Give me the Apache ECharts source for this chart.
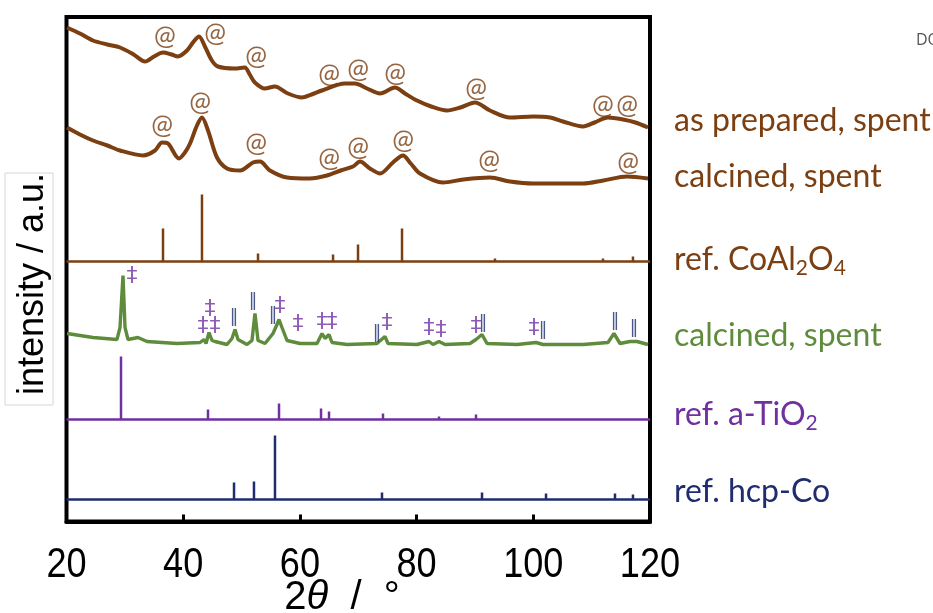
<!DOCTYPE html>
<html>
<head>
<meta charset="utf-8">
<script src="https://cdn.jsdelivr.net/npm/echarts@6/dist/echarts.min.js"></script>
<style>
html,body{margin:0;padding:0;background:#fff;}
#chart{width:933px;height:613px;}
</style>
</head>
<body>
<div id="chart"></div>
<script>
// ---- data (2θ in degrees, intensity in a.u. incl. vertical offset) ----
const xTicks = [20, 40, 60, 80, 100, 120];

const asPrepared = [[20.09,494],[22.3,488],[24.54,481],[27,477],[29.17,474],[31.5,467],[33.45,460],[35,465],[36.54,469],[38,467],[39.11,465],[40.65,471],[41.8,480],[42.71,485],[43.8,474],[44.91,461],[45.94,455],[48.85,453],[50.56,454],[51.4,447],[52.28,439],[53.99,433],[55.71,435],[57.94,428],[60.34,424],[62,427],[63.77,431],[67.71,438],[69.42,438],[71.5,433],[73.73,428],[76.3,434],[78,428],[80.07,421],[82.5,415],[85.21,411],[87.5,414],[90.01,419],[92.58,411],[96.01,404],[100,405],[102.86,404],[105.09,400],[108.52,395],[110.5,399],[112.8,404],[115.37,402],[117.5,399],[119.66,394]];

const calcinedSpent = [[20.09,394],[22.3,387],[24.54,381],[27,376],[29.17,371],[33.11,366],[35.17,371],[36.37,379],[37.39,378],[39.28,363],[40.3,369],[41.17,378],[42.36,396],[43.22,404],[44.25,391],[45.79,364],[47.51,353],[49.74,351],[51.96,359],[53.16,360],[54.87,351],[57.79,344],[61.73,343],[64.64,346],[67,351],[69.1,355],[70.3,360],[72,353],[73.73,348],[75.95,359],[77.67,366],[79,358],[80.58,348],[84.52,339],[88,342],[92.58,344],[96,340],[99.95,338],[108.52,338],[112,341],[116.06,345],[119.66,343]];

const calcinedTi = [[20.09,188],[24.54,184],[28.65,182],[29.17,194],[29.68,246],[30.03,194],[30.54,182],[32.25,184],[33.8,180],[38.94,178],[42.88,179],[43.57,182],[43.91,178],[44.42,189],[44.94,181],[45.45,180],[47.51,177],[48.36,183],[48.88,192],[49.39,182],[50.93,177],[51.79,181],[52.3,208],[52.82,181],[54.02,178],[55.39,188],[56.07,197],[56.42,202],[56.93,194],[57.79,181],[60.02,178],[62.93,178],[63.79,188],[64.3,183],[64.99,187],[65.5,179],[68.07,177],[73.21,178],[74.58,185],[75.1,178],[80.07,177],[82.13,180],[82.81,177],[83.84,180],[84.87,177],[89.15,178],[90.18,182],[90.52,181],[91.21,187],[92.07,178],[97.21,177],[100.47,179],[101.67,177],[108.52,177],[112.8,179],[113.83,188],[114.86,178],[116.57,180],[117.77,180],[119.66,177]];

const coAlBase = 260;
const coAlTheta  = [36.54,43.22,52.82,57.62,65.68,69.96,77.5,89.66,93.43,111.94,117.08];
const coAlHeight = [33,67,8,2,7,17,33,2,3,3,5];

const tiBase = 102;
const tiTheta  = [29.34,43.39,44.25,45.11,56.42,63.62,64.99,74.24,82.13,83.84,90.18,91.38,100.29,115.37,116.74];
const tiHeight = [63,2,10,2,16,11,8,6,2,3,5,1,2,1,1];

const coBase = 22;
const coTheta  = [48.71,52.13,55.73,74.07,91.21,102.18,111.09,114.0,117.08];
const coHeight = [17,18,64,7,7,6,1,6,5];

const atMarks = [[36.88,485],[45.45,488],[52.48,465],[64.99,447],[69.96,452],[76.3,448],[90.18,433],[111.94,416],[116.06,416],
                 [36.37,396],[42.88,419],[52.48,378],[64.99,363],[69.96,374],[77.67,381],[92.41,361],[116.23,359]];
const daggerMarks = [[31.23,245],[44.59,212],[43.39,195],[45.45,195],[56.59,215],[59.67,197],[63.79,199],[65.5,199],[74.93,198],[82.13,193],[84.18,191],[90.18,195],[100.12,193]];
const barMarks = [[48.71,204],[51.96,220],[55.39,206],[73.21,188],[91.38,198],[101.67,191],[114.0,200],[117.26,193]];

const seriesLabels = ['as prepared, spent','calcined, spent','ref. CoAl2O4','calcined, spent','ref. a-TiO2','ref. hcp-Co'];

// ---- styles ----
const BROWN = '#7B3F12', GREEN = '#5E8C3C', PURPLE = '#7030A0', NAVY = '#1F2D6E';

function sticks(theta, heights, base) {
  const d = [[20, base]];
  theta.forEach((t, i) => { d.push([t, base], [t, base + heights[i]], [t, base]); });
  d.push([120, base]);
  return d;
}
function lineSeries(data, color, width, smooth) {
  return {type:'line', data:data, showSymbol:false, smooth:smooth||false, silent:true,
          lineStyle:{color:color, width:width}, itemStyle:{color:color}, z:3};
}
function markSeries(data, text, color, size, font) {
  return {type:'scatter', data:data, symbolSize:1, silent:true, itemStyle:{color:'rgba(0,0,0,0)'}, z:5,
          label:{show:true, position:'inside', formatter:text, color:color, fontSize:size,
                 fontFamily:font, align:'center', verticalAlign:'middle'}};
}

const chart = echarts.init(document.getElementById('chart'));
const labelFont = 'Lato, "Open Sans", sans-serif';
const FS = 32;
const rLab = (txt, col, y) => ({type:'text', x:674, y:y, silent:true,
    style:{text:txt, fill:col, font:FS + 'px ' + labelFont, verticalAlign:'middle'}});
const subRich = (col) => ({
  a:{fontSize:FS, fontFamily:'Lato', fill:col},
  s:{fontSize:21, fontFamily:'Lato', fill:col, padding:[17,0,0,0]}
});
const axisFont = '"Liberation Sans", Arial, sans-serif';

chart.setOption({
  animation:false,
  backgroundColor:'#ffffff',
  grid:{left:66.5, right:283, top:17, bottom:91.5, show:true, borderColor:'#000', borderWidth:4, backgroundColor:'transparent'},
  xAxis:{type:'value', min:20, max:120, interval:20,
    axisLine:{show:true, lineStyle:{color:'#000', width:4}},
    axisTick:{show:true, inside:true, length:7, lineStyle:{color:'#000', width:3}},
    splitLine:{show:false},
    axisLabel:{show:false}},
  yAxis:{type:'value', min:0, max:504.5, show:false},
  series:[
    lineSeries(asPrepared, BROWN, 4, 0.3),
    lineSeries(calcinedSpent, BROWN, 4, 0.3),
    lineSeries(sticks(coAlTheta, coAlHeight, coAlBase), BROWN, 2.5),
    lineSeries(calcinedTi, GREEN, 3.4),
    lineSeries(sticks(tiTheta, tiHeight, tiBase), PURPLE, 2.5),
    lineSeries(sticks(coTheta, coHeight, coBase), NAVY, 2.5),
    markSeries(atMarks, '@', BROWN, 26, 'Lato, sans-serif'),
    markSeries(daggerMarks, '‡', PURPLE, 22, '"DejaVu Sans", sans-serif'),
    markSeries(barMarks, '‖', NAVY, 17, '"DejaVu Sans", sans-serif')
  ]
});

// tick labels: condensed look, placed at the axis' own pixel positions
const tickGraphics = xTicks.map(v => {
  const p = chart.convertToPixel({xAxisIndex:0, yAxisIndex:0}, [v, 0]);
  return {type:'text', x:p[0], y:565, scaleX:0.84, silent:true,
    style:{text:String(v), fill:'#000', font:'43px ' + axisFont, align:'center', verticalAlign:'middle'}};
});

chart.setOption({
  graphic:[
    {type:'rect', shape:{x:5, y:173, width:48, height:232}, style:{fill:'none', stroke:'#d6d6d6', lineWidth:1}, silent:true},
    {type:'text', x:33, y:284, rotation:Math.PI/2, silent:true,
      style:{text:'intensity / a.u.', fill:'#000', font:'36px ' + axisFont, align:'center', verticalAlign:'middle'}},
    {type:'text', x:342, y:598, silent:true,
      style:{text:'{n|2}{i|θ}{n|  /  °}', align:'center', verticalAlign:'middle',
        rich:{n:{fontSize:40, fontFamily:axisFont, fill:'#000'},
              i:{fontSize:40, fontFamily:axisFont, fontStyle:'italic', fill:'#000'}}}},
    rLab(seriesLabels[0], BROWN, 121),
    rLab(seriesLabels[1], BROWN, 177),
    {type:'text', x:674, y:260, silent:true,
      style:{text:'{a|ref. CoAl}{s|2}{a|O}{s|4}', verticalAlign:'middle', rich:subRich(BROWN)}},
    rLab(seriesLabels[3], GREEN, 336),
    {type:'text', x:674, y:415, silent:true,
      style:{text:'{a|ref. a-TiO}{s|2}', verticalAlign:'middle', rich:subRich(PURPLE)}},
    rLab(seriesLabels[5], NAVY, 492),
    {type:'text', x:916, y:40, silent:true,
      style:{text:'DOI', fill:'#555', font:'16px "Open Sans", sans-serif', verticalAlign:'middle'}}
  ].concat(tickGraphics)
});
</script>
</body>
</html>
